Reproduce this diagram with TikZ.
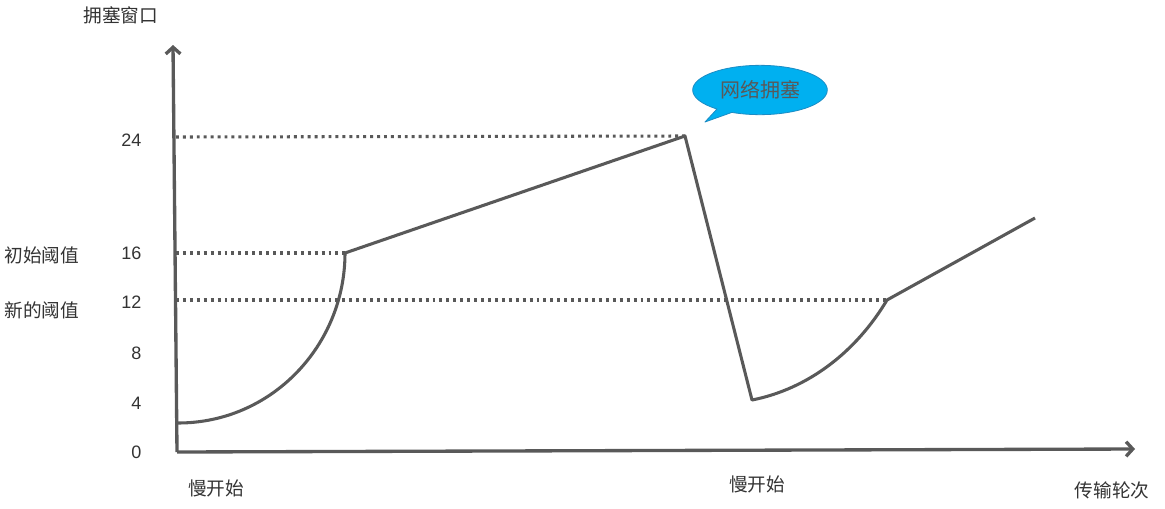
\documentclass[tikz,border=0pt]{standalone}
\usepackage{fontspec}
\setmainfont{Noto Sans CJK SC}
\newfontfamily\numfont{Liberation Sans}
\usetikzlibrary{arrows.meta,shapes.callouts}
\definecolor{linegray}{HTML}{595959}
\definecolor{bubble}{HTML}{00B0F0}
\definecolor{bubbleedge}{HTML}{1C8CC4}

\begin{document}
\begin{tikzpicture}[x=0.75pt,y=-0.75pt,>={Straight Barb[length=5pt,width=11pt]},
                    line join=round]
  \tikzstyle{every node}=[font=\fontsize{14}{16}\selectfont,text=black!80]
  \tikzstyle{axis}=[->,draw=linegray,line width=2.5pt]
  \tikzstyle{level}=[draw=linegray,line width=2.3pt,dash pattern=on 2.2pt off 3pt]
  \tikzstyle{window}=[draw=linegray,line width=2.3pt]
  \tikzstyle{tick}=[anchor=east,font=\numfont\fontsize{13.5}{16}\selectfont]

  \useasboundingbox (0,0) rectangle (1165,508);

  % axes
  \coordinate (O)    at (177,452);
  \coordinate (Ytop) at (173,45);
  \coordinate (Xend) at (1135,449);
  \draw[axis] (O) -- (Ytop);
  \draw[axis] (O) -- (Xend);

  \node (ylabel) at (121,15)  {拥塞窗口};
  \node (xlabel) at (1112,490) {传输轮次};

  % ticks
  \node[tick] (t24) at (146,140) {24};
  \node[tick] (t16) at (146,253) {16};
  \node[tick] (t12) at (146,302) {12};
  \node[tick] (t8)  at (146,353) {8};
  \node[tick] (t4)  at (146,403) {4};
  \node[tick] (t0)  at (146,452) {0};

  \node (init)   at (42,255) {初始阈值};
  \node (newth)  at (42,310) {新的阈值};

  % congestion window
  \coordinate (A) at (178,423);
  \coordinate (B) at (345,253);
  \coordinate (C) at (685,136);
  \coordinate (D) at (752,400);
  \coordinate (E) at (887,300);
  \coordinate (F) at (1035,218);

  \coordinate (L24) at (176,137);
  \coordinate (L16) at (176,253);
  \coordinate (L12) at (176,300);

  \draw[level] (L24) -- (C);
  \draw[level] (L16) -- (B);
  \draw[level] (L12) -- (E);

  \draw[window] (A) .. controls (272,423) and (345,345) .. (B)
                -- (C) -- (D)
                .. controls (808,389) and (856,352) .. (E)
                -- (F);

  \node (slow1) at (216,488) {慢开始};
  \node (slow2) at (757,484) {慢开始};

  % callout
  \coordinate (tail) at (705,122);
  \node[ellipse callout,callout absolute pointer=(tail),fill=bubble,
        draw=bubbleedge,line width=0.6pt,minimum width=101pt,minimum height=37pt,
        inner sep=0pt,text=black!65,font=\fontsize{15}{17}\selectfont]
        (jam) at (760,90) {网络拥塞};
\end{tikzpicture}
\end{document}
